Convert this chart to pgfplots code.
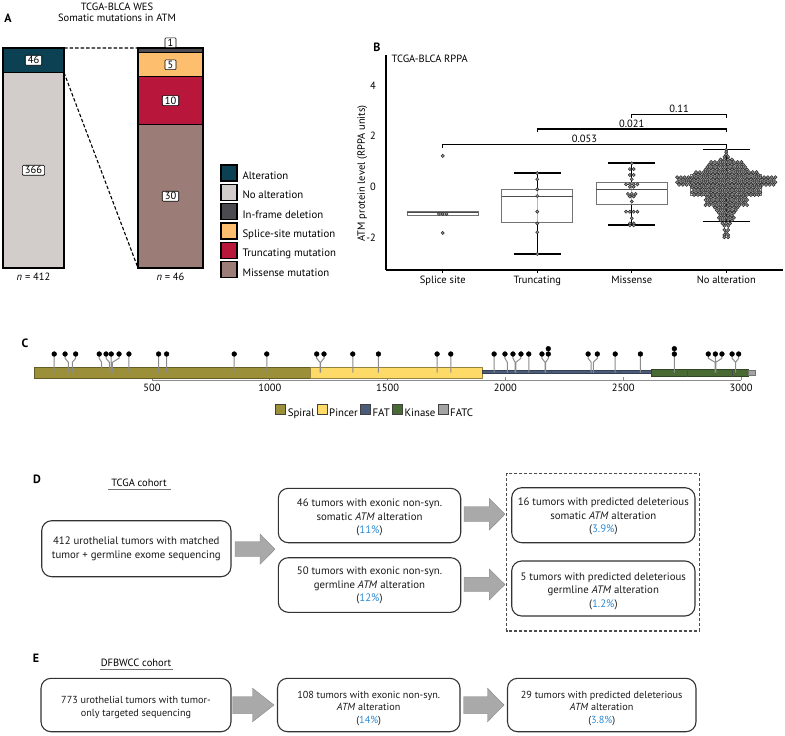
\documentclass[border=0pt]{standalone}
\usepackage{pgfplots}
\pgfplotsset{compat=1.18}
\usepgfplotslibrary{statistics}
\usepackage{fontspec}
\setmainfont{PT Sans}
\definecolor{alt}{HTML}{0B4152}
\definecolor{noalt}{HTML}{D2CDCA}
\definecolor{inframe}{HTML}{4A4A50}
\definecolor{splice}{HTML}{FDBE6E}
\definecolor{trunc}{HTML}{B8163A}
\definecolor{miss}{HTML}{9C7C76}
\definecolor{spiral}{HTML}{9B8F3A}
\definecolor{pincer}{HTML}{FEDB68}
\definecolor{fat}{HTML}{4B5B7A}
\definecolor{kinase}{HTML}{4A6A33}
\definecolor{fatc}{HTML}{A3A3A3}
\definecolor{blu}{HTML}{2D8AD3}
\definecolor{arr}{HTML}{A9A9A9}
\tikzset{lab/.style={draw=black, fill=white, line width=0.6pt, inner xsep=2.5pt, inner ysep=1.2pt, rounded corners=1pt, minimum width=11pt, font=\fontsize{10.5}{12}\selectfont},
 rbox/.style={rounded corners=10pt, line width=1.1pt, draw=black!80},
 ftext/.style={align=center, font=\fontsize{10.8}{13.5}\selectfont, text=black!90},
 etext/.style={align=center, font=\fontsize{10.2}{12.5}\selectfont, text=black!90},
 plab/.style={font=\fontsize{12}{14}\selectfont\bfseries}}
\pgfplotsset{sq/.style={legend image code/.code={\draw[line width=1.3pt, draw=black, fill=#1] (0pt,-4.5pt) rectangle (16pt,11.5pt);}},
 bx/.style={boxplot/draw direction=y, draw=black!55, fill=white, fill opacity=0.72, line width=0.9pt}}
\newcommand{\barrow}[6]{\filldraw[fill=arr, draw=arr!80!black, line width=0.4pt] (#1,{-(#4)+(#5)}) -- (#2,{-(#4)+(#5)}) -- (#2,{-(#4)+(#6)}) -- (#3,{-(#4)}) -- (#2,{-(#4)-(#6)}) -- (#2,{-(#4)-(#5)}) -- (#1,{-(#4)-(#5)}) -- cycle;}
\begin{document}
\fontsize{10.5pt}{13pt}\selectfont
\begin{tikzpicture}[x=1pt,y=1pt]
\path[use as bounding box] (0,0) rectangle (785,-736);

% ---------------- Panel A ----------------
\node[plab] at (8,-18) {A};
\node[align=center, font=\fontsize{10.5}{11.7}\selectfont] at (117,-12.2) {TCGA-BLCA WES\\Somatic mutations in ATM};

\begin{axis}[at={(3pt,-268pt)}, anchor=south west, scale only axis, width=61pt, height=220pt,
  xmin=0, xmax=1, ymin=0, ymax=412, hide axis, ybar stacked, bar width=61pt, clip=false]
\addplot[fill=noalt, draw=black, line width=1.3pt] coordinates {(0.5,366)};
\addplot[fill=alt, draw=black, line width=1.3pt] coordinates {(0.5,46)};
\coordinate (L366) at (axis cs:0.5,183);
\coordinate (L46) at (axis cs:0.5,389);
\coordinate (Ln) at (axis cs:0.5,-8);
\coordinate (Ltop) at (axis cs:1,412);
\coordinate (Lmid) at (axis cs:1,366);
\end{axis}
\node[lab] at (L366) {366};
\node[lab] at (L46) {46};
\node[anchor=north, inner sep=1pt] at (Ln) {\textit{n} = 412};

\begin{axis}[at={(138pt,-268pt)}, anchor=south west, scale only axis, width=65pt, height=220pt,
  xmin=0, xmax=1, ymin=0, ymax=46, hide axis, ybar stacked, bar width=65pt, clip=false]
\addplot[fill=miss, draw=black, line width=1.3pt] coordinates {(0.5,30)};
\addplot[fill=trunc, draw=black, line width=1.3pt] coordinates {(0.5,10)};
\addplot[fill=splice, draw=black, line width=1.3pt] coordinates {(0.5,5)};
\addplot[fill=inframe, draw=black, line width=1.3pt] coordinates {(0.5,1)};
\coordinate (R30) at (axis cs:0.5,15);
\coordinate (R10) at (axis cs:0.5,35);
\coordinate (R5) at (axis cs:0.5,42.5);
\coordinate (R1) at (axis cs:0.5,47.1);
\coordinate (Rn) at (axis cs:0.5,-0.9);
\coordinate (Rtop) at (axis cs:0,46);
\coordinate (Rbot) at (axis cs:0,0);
\end{axis}
\node[lab] at (R30) {30};
\node[lab] at (R10) {10};
\node[lab] at (R5) {5};
\node[lab] at (R1) {1};
\node[anchor=north, inner sep=1pt] at (Rn) {\textit{n} = 46};
\draw[dash pattern=on 3.5pt off 2pt, line width=1.1pt] (Ltop) -- (Rtop);
\draw[dash pattern=on 3.5pt off 2pt, line width=1.1pt] (Lmid) -- (Rbot);

\begin{axis}[at={(220pt,-164pt)}, anchor=north west, scale only axis, width=1pt, height=1pt,
  hide axis, xmin=0, xmax=1, ymin=0, ymax=1,
  legend style={at={(0,1)}, anchor=north west, draw=none, fill=none, inner sep=0pt, row sep=1.6pt,
    nodes={inner sep=1pt, font=\fontsize{10.8}{12}\selectfont},
    /tikz/every odd column/.append style={column sep=4pt}},
  legend cell align=left]
\addlegendimage{sq=alt}\addlegendentry{Alteration}
\addlegendimage{sq=noalt}\addlegendentry{No alteration}
\addlegendimage{sq=inframe}\addlegendentry{In-frame deletion}
\addlegendimage{sq=splice}\addlegendentry{Splice-site mutation}
\addlegendimage{sq=trunc}\addlegendentry{Truncating mutation}
\addlegendimage{sq=miss}\addlegendentry{Missense mutation}
\end{axis}

% ---------------- Panel B ----------------
\node[plab] at (377,-47) {B};
\node[anchor=west, font=\fontsize{10.5}{12}\selectfont] at (388,-59) {TCGA-BLCA RPPA};

\begin{axis}[at={(386pt,-270pt)}, anchor=south west, scale only axis, width=397pt, height=215pt,
  xmin=0.4, xmax=4.6, ymin=-3.28, ymax=5.2,
  axis lines=left, axis line style={-, line width=1.5pt, black},
  xtick={1,2,3,4}, xticklabels={Splice site,Truncating,Missense,No alteration},
  ytick={-2,0,2,4},
  major tick length=2.5pt, tick align=outside, x tick style={black, line width=0.8pt}, y tick style={draw=none},
  yticklabel style={xshift=-4pt},
  tick label style={font=\fontsize{10.5}{12}\selectfont},
  /pgf/number format/assume math mode=true,
  ylabel={ATM protein level (RPPA units)},
  ylabel style={at={(axis description cs:-0.06,0.449)}, anchor=center, font=\fontsize{10.5}{12}\selectfont},
  clip=false, unbounded coords=jump,
  boxplot/every whisker/.style={draw=none},
  boxplot/every median/.style={draw=black!70, line width=1.2pt}]
% whiskers and caps
\addplot[black, line width=1.3pt] coordinates {
(2,-2.65)(2,0.54)(2,nan)(1.75,0.54)(2.25,0.54)(2,nan)(1.75,-2.65)(2.25,-2.65)(2,nan)
(3,-1.50)(3,0.94)(3,nan)(2.75,0.94)(3.25,0.94)(3,nan)(2.75,-1.50)(3.25,-1.50)(3,nan)
(4,-1.37)(4,1.46)(4,nan)(3.75,1.46)(4.25,1.46)(4,nan)(3.75,-1.37)(4.25,-1.37)};
% individual samples
\addplot[only marks, mark=*, mark size=1.6pt, mark options={fill=black!40, draw=black!85, line width=0.5pt}] coordinates {
(1,1.22)(0.96,-1.07)(1,-1.07)(1.04,-1.07)(1,-1.82)
(2,0.54)(2,0.30)(2,-0.10)(2,-0.36)(2,-0.98)(2,-1.44)(2,-1.79)(2,-2.65)
(3,0.93)(2.98,0.70)(3.02,0.70)(2.98,0.47)(3.02,0.47)(3,0.30)(2.94,0.10)(2.98,0.10)(3.02,0.10)(3.06,0.10)
(2.98,0.0)(3.02,0.0)(2.96,-0.28)(3,-0.28)(3.04,-0.28)(2.98,-0.38)(3.02,-0.38)(3,-0.58)
(2.94,-0.98)(2.98,-0.98)(3.02,-0.98)(3.06,-0.98)(3,-1.24)(2.98,-1.44)(3.02,-1.44)(2.98,-1.52)(3.02,-1.52)};
% no alteration swarm
\addplot[only marks, mark=*, mark size=1.6pt, mark options={fill=black!40, draw=black!85, line width=0.5pt}] coordinates {
(4,1.46)(4,1.37)(4,1.28)(3.98,1.18)(4.02,1.18)
(3.94,1.08)(3.98,1.08)(4.02,1.08)(4.06,1.08)
(3.84,0.98)(3.88,0.98)(3.92,0.98)(3.96,0.98)(4,0.98)(4.04,0.98)(4.08,0.98)(4.12,0.98)(4.16,0.98)
(3.82,0.88)(3.86,0.88)(3.90,0.88)(3.94,0.88)(3.98,0.88)(4.02,0.88)(4.06,0.88)(4.10,0.88)(4.14,0.88)(4.18,0.88)
(3.80,0.78)(3.84,0.78)(3.88,0.78)(3.92,0.78)(3.96,0.78)(4,0.78)(4.04,0.78)(4.08,0.78)(4.12,0.78)(4.16,0.78)(4.20,0.78)
(3.78,0.68)(3.82,0.68)(3.86,0.68)(3.90,0.68)(3.94,0.68)(3.98,0.68)(4.02,0.68)(4.06,0.68)(4.10,0.68)(4.14,0.68)(4.18,0.68)(4.22,0.68)
(3.68,0.58)(3.72,0.58)(3.76,0.58)(3.80,0.58)(3.84,0.58)(3.88,0.58)(3.92,0.58)(3.96,0.58)(4,0.58)(4.04,0.58)(4.08,0.58)(4.12,0.58)(4.16,0.58)(4.20,0.58)(4.24,0.58)(4.28,0.58)(4.32,0.58)
(3.66,0.48)(3.70,0.48)(3.74,0.48)(3.78,0.48)(3.82,0.48)(3.86,0.48)(3.90,0.48)(3.94,0.48)(3.98,0.48)(4.02,0.48)(4.06,0.48)(4.10,0.48)(4.14,0.48)(4.18,0.48)(4.22,0.48)(4.26,0.48)(4.30,0.48)(4.34,0.48)
(3.48,0.38)(3.52,0.38)(3.56,0.38)(3.60,0.38)(3.64,0.38)(3.68,0.38)(3.72,0.38)(3.76,0.38)(3.80,0.38)(3.84,0.38)(3.88,0.38)(3.92,0.38)(3.96,0.38)(4,0.38)(4.04,0.38)(4.08,0.38)(4.12,0.38)(4.16,0.38)(4.20,0.38)(4.24,0.38)(4.28,0.38)(4.32,0.38)(4.36,0.38)(4.40,0.38)(4.44,0.38)(4.48,0.38)(4.52,0.38)
(3.50,0.28)(3.54,0.28)(3.58,0.28)(3.62,0.28)(3.66,0.28)(3.70,0.28)(3.74,0.28)(3.78,0.28)(3.82,0.28)(3.86,0.28)(3.90,0.28)(3.94,0.28)(3.98,0.28)(4.02,0.28)(4.06,0.28)(4.10,0.28)(4.14,0.28)(4.18,0.28)(4.22,0.28)(4.26,0.28)(4.30,0.28)(4.34,0.28)(4.38,0.28)(4.42,0.28)(4.46,0.28)(4.50,0.28)
(3.48,0.18)(3.52,0.18)(3.56,0.18)(3.60,0.18)(3.64,0.18)(3.68,0.18)(3.72,0.18)(3.76,0.18)(3.80,0.18)(3.84,0.18)(3.88,0.18)(3.92,0.18)(3.96,0.18)(4,0.18)(4.04,0.18)(4.08,0.18)(4.12,0.18)(4.16,0.18)(4.20,0.18)(4.24,0.18)(4.28,0.18)(4.32,0.18)(4.36,0.18)(4.40,0.18)(4.44,0.18)(4.48,0.18)(4.52,0.18)
(3.50,0.08)(3.54,0.08)(3.58,0.08)(3.62,0.08)(3.66,0.08)(3.70,0.08)(3.74,0.08)(3.78,0.08)(3.82,0.08)(3.86,0.08)(3.90,0.08)(3.94,0.08)(3.98,0.08)(4.02,0.08)(4.06,0.08)(4.10,0.08)(4.14,0.08)(4.18,0.08)(4.22,0.08)(4.26,0.08)(4.30,0.08)(4.34,0.08)(4.38,0.08)(4.42,0.08)(4.46,0.08)(4.50,0.08)
(3.64,-0.02)(3.68,-0.02)(3.72,-0.02)(3.76,-0.02)(3.80,-0.02)(3.84,-0.02)(3.88,-0.02)(3.92,-0.02)(3.96,-0.02)(4,-0.02)(4.04,-0.02)(4.08,-0.02)(4.12,-0.02)(4.16,-0.02)(4.20,-0.02)(4.24,-0.02)(4.28,-0.02)(4.32,-0.02)(4.36,-0.02)
(3.66,-0.12)(3.70,-0.12)(3.74,-0.12)(3.78,-0.12)(3.82,-0.12)(3.86,-0.12)(3.90,-0.12)(3.94,-0.12)(3.98,-0.12)(4.02,-0.12)(4.06,-0.12)(4.10,-0.12)(4.14,-0.12)(4.18,-0.12)(4.22,-0.12)(4.26,-0.12)(4.30,-0.12)(4.34,-0.12)
(3.64,-0.22)(3.68,-0.22)(3.72,-0.22)(3.76,-0.22)(3.80,-0.22)(3.84,-0.22)(3.88,-0.22)(3.92,-0.22)(3.96,-0.22)(4,-0.22)(4.04,-0.22)(4.08,-0.22)(4.12,-0.22)(4.16,-0.22)(4.20,-0.22)(4.24,-0.22)(4.28,-0.22)(4.32,-0.22)(4.36,-0.22)
(3.66,-0.32)(3.70,-0.32)(3.74,-0.32)(3.78,-0.32)(3.82,-0.32)(3.86,-0.32)(3.90,-0.32)(3.94,-0.32)(3.98,-0.32)(4.02,-0.32)(4.06,-0.32)(4.10,-0.32)(4.14,-0.32)(4.18,-0.32)(4.22,-0.32)(4.26,-0.32)(4.30,-0.32)(4.34,-0.32)
(3.80,-0.42)(3.84,-0.42)(3.88,-0.42)(3.92,-0.42)(3.96,-0.42)(4,-0.42)(4.04,-0.42)(4.08,-0.42)(4.12,-0.42)(4.16,-0.42)(4.20,-0.42)
(3.78,-0.52)(3.82,-0.52)(3.86,-0.52)(3.90,-0.52)(3.94,-0.52)(3.98,-0.52)(4.02,-0.52)(4.06,-0.52)(4.10,-0.52)(4.14,-0.52)(4.18,-0.52)(4.22,-0.52)
(3.80,-0.62)(3.84,-0.62)(3.88,-0.62)(3.92,-0.62)(3.96,-0.62)(4,-0.62)(4.04,-0.62)(4.08,-0.62)(4.12,-0.62)(4.16,-0.62)(4.20,-0.62)
(3.78,-0.72)(3.82,-0.72)(3.86,-0.72)(3.90,-0.72)(3.94,-0.72)(3.98,-0.72)(4.02,-0.72)(4.06,-0.72)(4.10,-0.72)(4.14,-0.72)(4.18,-0.72)(4.22,-0.72)
(3.88,-0.82)(3.92,-0.82)(3.96,-0.82)(4,-0.82)(4.04,-0.82)(4.08,-0.82)(4.12,-0.82)
(3.90,-0.92)(3.94,-0.92)(3.98,-0.92)(4.02,-0.92)(4.06,-0.92)(4.10,-0.92)
(3.92,-1.02)(3.96,-1.02)(4,-1.02)(4.04,-1.02)(4.08,-1.02)
(3.94,-1.12)(3.98,-1.12)(4.02,-1.12)(4.06,-1.12)
(3.92,-1.22)(3.96,-1.22)(4,-1.22)(4.04,-1.22)(4.08,-1.22)
(3.94,-1.32)(3.98,-1.32)(4.02,-1.32)(4.06,-1.32)
(3.96,-1.44)(4,-1.44)(4.04,-1.44)
(3.98,-1.54)(4.02,-1.54)
(3.98,-1.70)(4.02,-1.70)
(4,-1.80)
(3.98,-1.90)(4.02,-1.90)
(3.98,-1.99)(4.02,-1.99)};
% boxes
\addplot[bx, boxplot prepared={draw position=1, lower quartile=-1.13, median=-1.0, upper quartile=-0.98, lower whisker=-1.13, upper whisker=-0.98, box extend=0.75}] coordinates {};
\addplot[bx, boxplot prepared={draw position=2, lower quartile=-1.40, median=-0.38, upper quartile=-0.12, lower whisker=-1.40, upper whisker=-0.12, box extend=0.75}] coordinates {};
\addplot[bx, boxplot prepared={draw position=3, lower quartile=-0.68, median=-0.12, upper quartile=0.17, lower whisker=-0.68, upper whisker=0.17, box extend=0.75}] coordinates {};
\addplot[bx, boxplot prepared={draw position=4, lower quartile=-0.32, median=0.08, upper quartile=0.50, lower whisker=-0.32, upper whisker=0.50, box extend=0.75}] coordinates {};
% significance brackets
\addplot[black, line width=1.2pt] coordinates {(1,1.54)(1,1.66)(4,1.66)(4,1.54)};
\addplot[black, line width=1.2pt] coordinates {(2,2.16)(2,2.28)(4,2.28)(4,2.16)};
\addplot[black, line width=1.2pt] coordinates {(3,2.73)(3,2.85)(4,2.85)(4,2.73)};
\node[anchor=south, inner sep=1.5pt, font=\fontsize{10.5}{12}\selectfont] at (axis cs:2.5,1.66) {0.053};
\node[anchor=south, inner sep=1.5pt, font=\fontsize{10.5}{12}\selectfont] at (axis cs:3,2.28) {0.021};
\node[anchor=south, inner sep=1.5pt, font=\fontsize{10.5}{12}\selectfont] at (axis cs:3.5,2.85) {0.11};
\end{axis}

% ---------------- Panel C ----------------
\node[plab] at (25,-343) {C};
\begin{axis}[at={(34.2pt,-380pt)}, anchor=south west, scale only axis, width=730.4pt, height=40pt,
  xmin=0, xmax=3100, ymin=0, ymax=40,
  axis y line=none, axis x line=bottom, x axis line style={draw=none},
  xtick={500,1000,1500,2000,2500,3000}, major tick length=3pt, tick align=inside,
  tick style={black!45, line width=0.8pt},
  tick label style={font=\fontsize{10.5}{12}\selectfont},
  /pgf/number format/assume math mode=true, /pgf/number format/1000 sep={},
  clip=false, unbounded coords=jump,
  legend image code/.code={\draw[#1, draw=black!75, line width=0.8pt] (0pt,-0.5pt) rectangle (10pt,9.5pt);},
  legend columns=5,
  legend style={at={(0.4666,-0.79)}, anchor=center, draw=none, fill=none, inner sep=0pt,
    nodes={inner sep=1.5pt, font=\fontsize{10.8}{12}\selectfont},
    /tikz/every even column/.append style={column sep=1pt}}]
\addplot[fill=spiral, draw=spiral!65!black, line width=0.6pt] coordinates {(1,1.7)(1171,1.7)(1171,12.7)(1,12.7)(1,1.7)};
\addlegendentry{Spiral}
\addplot[fill=pincer, draw=pincer!60!black, line width=0.6pt] coordinates {(1171,1.7)(1902,1.7)(1902,12.7)(1171,12.7)(1171,1.7)};
\addlegendentry{Pincer}
\addplot[fill=fat, draw=fat!70!black, line width=0.5pt] coordinates {(1902,6.5)(2618,6.5)(2618,9.3)(1902,9.3)(1902,6.5)};
\addlegendentry{FAT}
\addplot[fill=kinase, draw=kinase!65!black, line width=0.6pt] coordinates {(2618,3.3)(3030,3.3)(3030,11)(2618,11)(2618,3.3)};
\addlegendentry{Kinase}
\addplot[fill=fatc, draw=fatc!70!black, line width=0.5pt] coordinates {(3030,4.7)(3060,4.7)(3060,9.3)(3030,9.3)(3030,4.7)};
\addlegendentry{FATC}
\addplot[forget plot, black!45, line width=0.9pt] coordinates {(500,0)(3000,0)};
\addplot[forget plot, black!70, line width=0.8pt] coordinates {(2774,3.3)(2774,11)(2774,nan)(2963,3.3)(2963,11)(2963,nan)(2196,6.5)(2196,9.3)(2196,nan)(2483,6.5)(2483,9.3)(2483,nan)(2041,6.5)(2041,9.3)};
% stems
\addplot[forget plot, black!45, line width=1pt] coordinates {
(85,7.5)(85,26)(85,nan)
(145,7.5)(145,17.7)(131,21.7)(131,26)(131,nan)
(162,7.5)(162,17.7)(176,21.7)(176,26)(176,nan)
(286,7.5)(286,17.7)(276,21.7)(276,26)(276,nan)
(319,7.5)(319,17.7)(305,21.7)(305,26)(305,nan)
(326,7.5)(326,17.7)(327,21.7)(327,26)(327,nan)
(332,7.5)(332,17.7)(360,21.7)(360,26)(360,nan)
(402,7.5)(402,26)(402,nan)
(528,7.5)(528,26)(528,nan)
(562,7.5)(562,26)(562,nan)
(849,7.5)(849,26)(849,nan)
(987,7.5)(987,26)(987,nan)
(1213,7.5)(1213,17.7)(1199,21.7)(1199,26)(1199,nan)
(1216,7.5)(1216,17.7)(1230,21.7)(1230,26)(1230,nan)
(1352,7.5)(1352,26)(1352,nan)
(1461,7.5)(1461,26)(1461,nan)
(1710,7.5)(1710,26)(1710,nan)
(1768,7.5)(1768,26)(1768,nan)
(1952,7.5)(1952,26)(1952,nan)
(2008,7.5)(2008,17.7)(1998,21.7)(1998,26)(1998,nan)
(2041,7.5)(2041,17.7)(2032,21.7)(2032,26)(2032,nan)
(2044,7.5)(2044,17.7)(2066,21.7)(2066,26)(2066,nan)
(2099,7.5)(2099,26)(2099,nan)
(2168,7.5)(2168,17.7)(2155,21.7)(2155,26)(2155,nan)
(2171,7.5)(2171,17.7)(2182,21.7)(2182,31.3)(2182,nan)
(2364,7.5)(2364,17.7)(2351,21.7)(2351,26)(2351,nan)
(2373,7.5)(2373,17.7)(2390,21.7)(2390,26)(2390,nan)
(2466,7.5)(2466,26)(2466,nan)
(2573,7.5)(2573,26)(2573,nan)
(2717,7.5)(2717,31.3)(2717,nan)
(2890,7.5)(2890,17.7)(2861,21.7)(2861,26)(2861,nan)
(2893,7.5)(2893,17.7)(2891,21.7)(2891,26)(2891,nan)
(2893,7.5)(2893,17.7)(2919,21.7)(2919,26)(2919,nan)
(2977,7.5)(2977,17.7)(2962,21.7)(2962,26)(2962,nan)
(2977,7.5)(2977,17.7)(2990,21.7)(2990,26)};
% heads
\addplot[forget plot, only marks, mark=*, mark size=2.4pt, black] coordinates {
(85,26)(131,26)(176,26)(276,26)(305,26)(327,26)(360,26)(402,26)(528,26)(562,26)(849,26)(987,26)
(1199,26)(1230,26)(1352,26)(1461,26)(1710,26)(1768,26)(1952,26)(1998,26)(2032,26)(2066,26)(2099,26)
(2155,26)(2182,26)(2182,31.3)(2351,26)(2390,26)(2466,26)(2573,26)(2717,26)(2717,31.3)
(2861,26)(2891,26)(2919,26)(2962,26)(2990,26)};
\end{axis}

% ---------------- Panel D ----------------
\node[plab] at (37,-479) {D};
\node[font=\fontsize{10.5}{12}\selectfont] at (139,-483) {TCGA cohort};
\draw[black!55, line width=0.9pt] (108,-489) -- (171,-489);
\draw[rbox] (41.7,-520.7) rectangle (231,-576.7);
\node[ftext] at (136.3,-548.7) {412 urothelial tumors with matched\\tumor + germline exome sequencing};
\barrow{235}{260}{275}{549.2}{7.5}{15.2}
\draw[rbox] (278.3,-488.3) rectangle (460.7,-542.7);
\node[ftext] at (369.5,-517.5) {46 tumors with exonic non-syn.\\somatic \textit{ATM} alteration\\(\textcolor{blu}{11\%})};
\draw[rbox] (278.3,-557.7) rectangle (460.7,-612.3);
\node[ftext] at (369.5,-585.5) {50 tumors with exonic non-syn.\\germline \textit{ATM} alteration\\(\textcolor{blu}{12\%})};
\barrow{464}{489.3}{505}{514.2}{7.5}{15.8}
\barrow{464}{489.3}{505}{584.5}{7.2}{15.5}
\draw[black!70, line width=1.1pt, dash pattern=on 3pt off 2pt] (506.7,-473.3) rectangle (699.3,-631);
\draw[rbox] (511.7,-487.7) rectangle (695,-542.7);
\node[ftext] at (603.3,-516.7) {16 tumors with predicted deleterious\\somatic \textit{ATM} alteration\\(\textcolor{blu}{3.9\%})};
\draw[rbox] (511.7,-561) rectangle (695,-616);
\node[ftext] at (603.3,-591) {5 tumors with predicted deleterious\\germline \textit{ATM} alteration\\(\textcolor{blu}{1.2\%})};

% ---------------- Panel E ----------------
\node[plab] at (36,-658) {E};
\node[font=\fontsize{10.5}{12}\selectfont] at (136,-663) {DFBWCC cohort};
\draw[black!55, line width=0.9pt] (100,-669) -- (172.5,-669);
\draw[rbox] (41,-678.3) rectangle (231,-731.7);
\node[etext] at (136,-707.5) {773 urothelial tumors with tumor-\\only targeted sequencing};
\barrow{232.5}{252.5}{274}{705}{8.3}{16.8}
\draw[rbox] (277.5,-678.3) rectangle (460,-731.7);
\node[etext] at (368.7,-708) {108 tumors with exonic non-syn.\\\textit{ATM} alteration\\(\textcolor{blu}{14\%})};
\barrow{463.5}{487.5}{504}{705}{8.3}{16.8}
\draw[rbox] (507.5,-678.3) rectangle (696,-731.7);
\node[etext] at (601.7,-708) {29 tumors with predicted deleterious\\\textit{ATM} alteration\\(\textcolor{blu}{3.8\%})};
\end{tikzpicture}
\end{document}
